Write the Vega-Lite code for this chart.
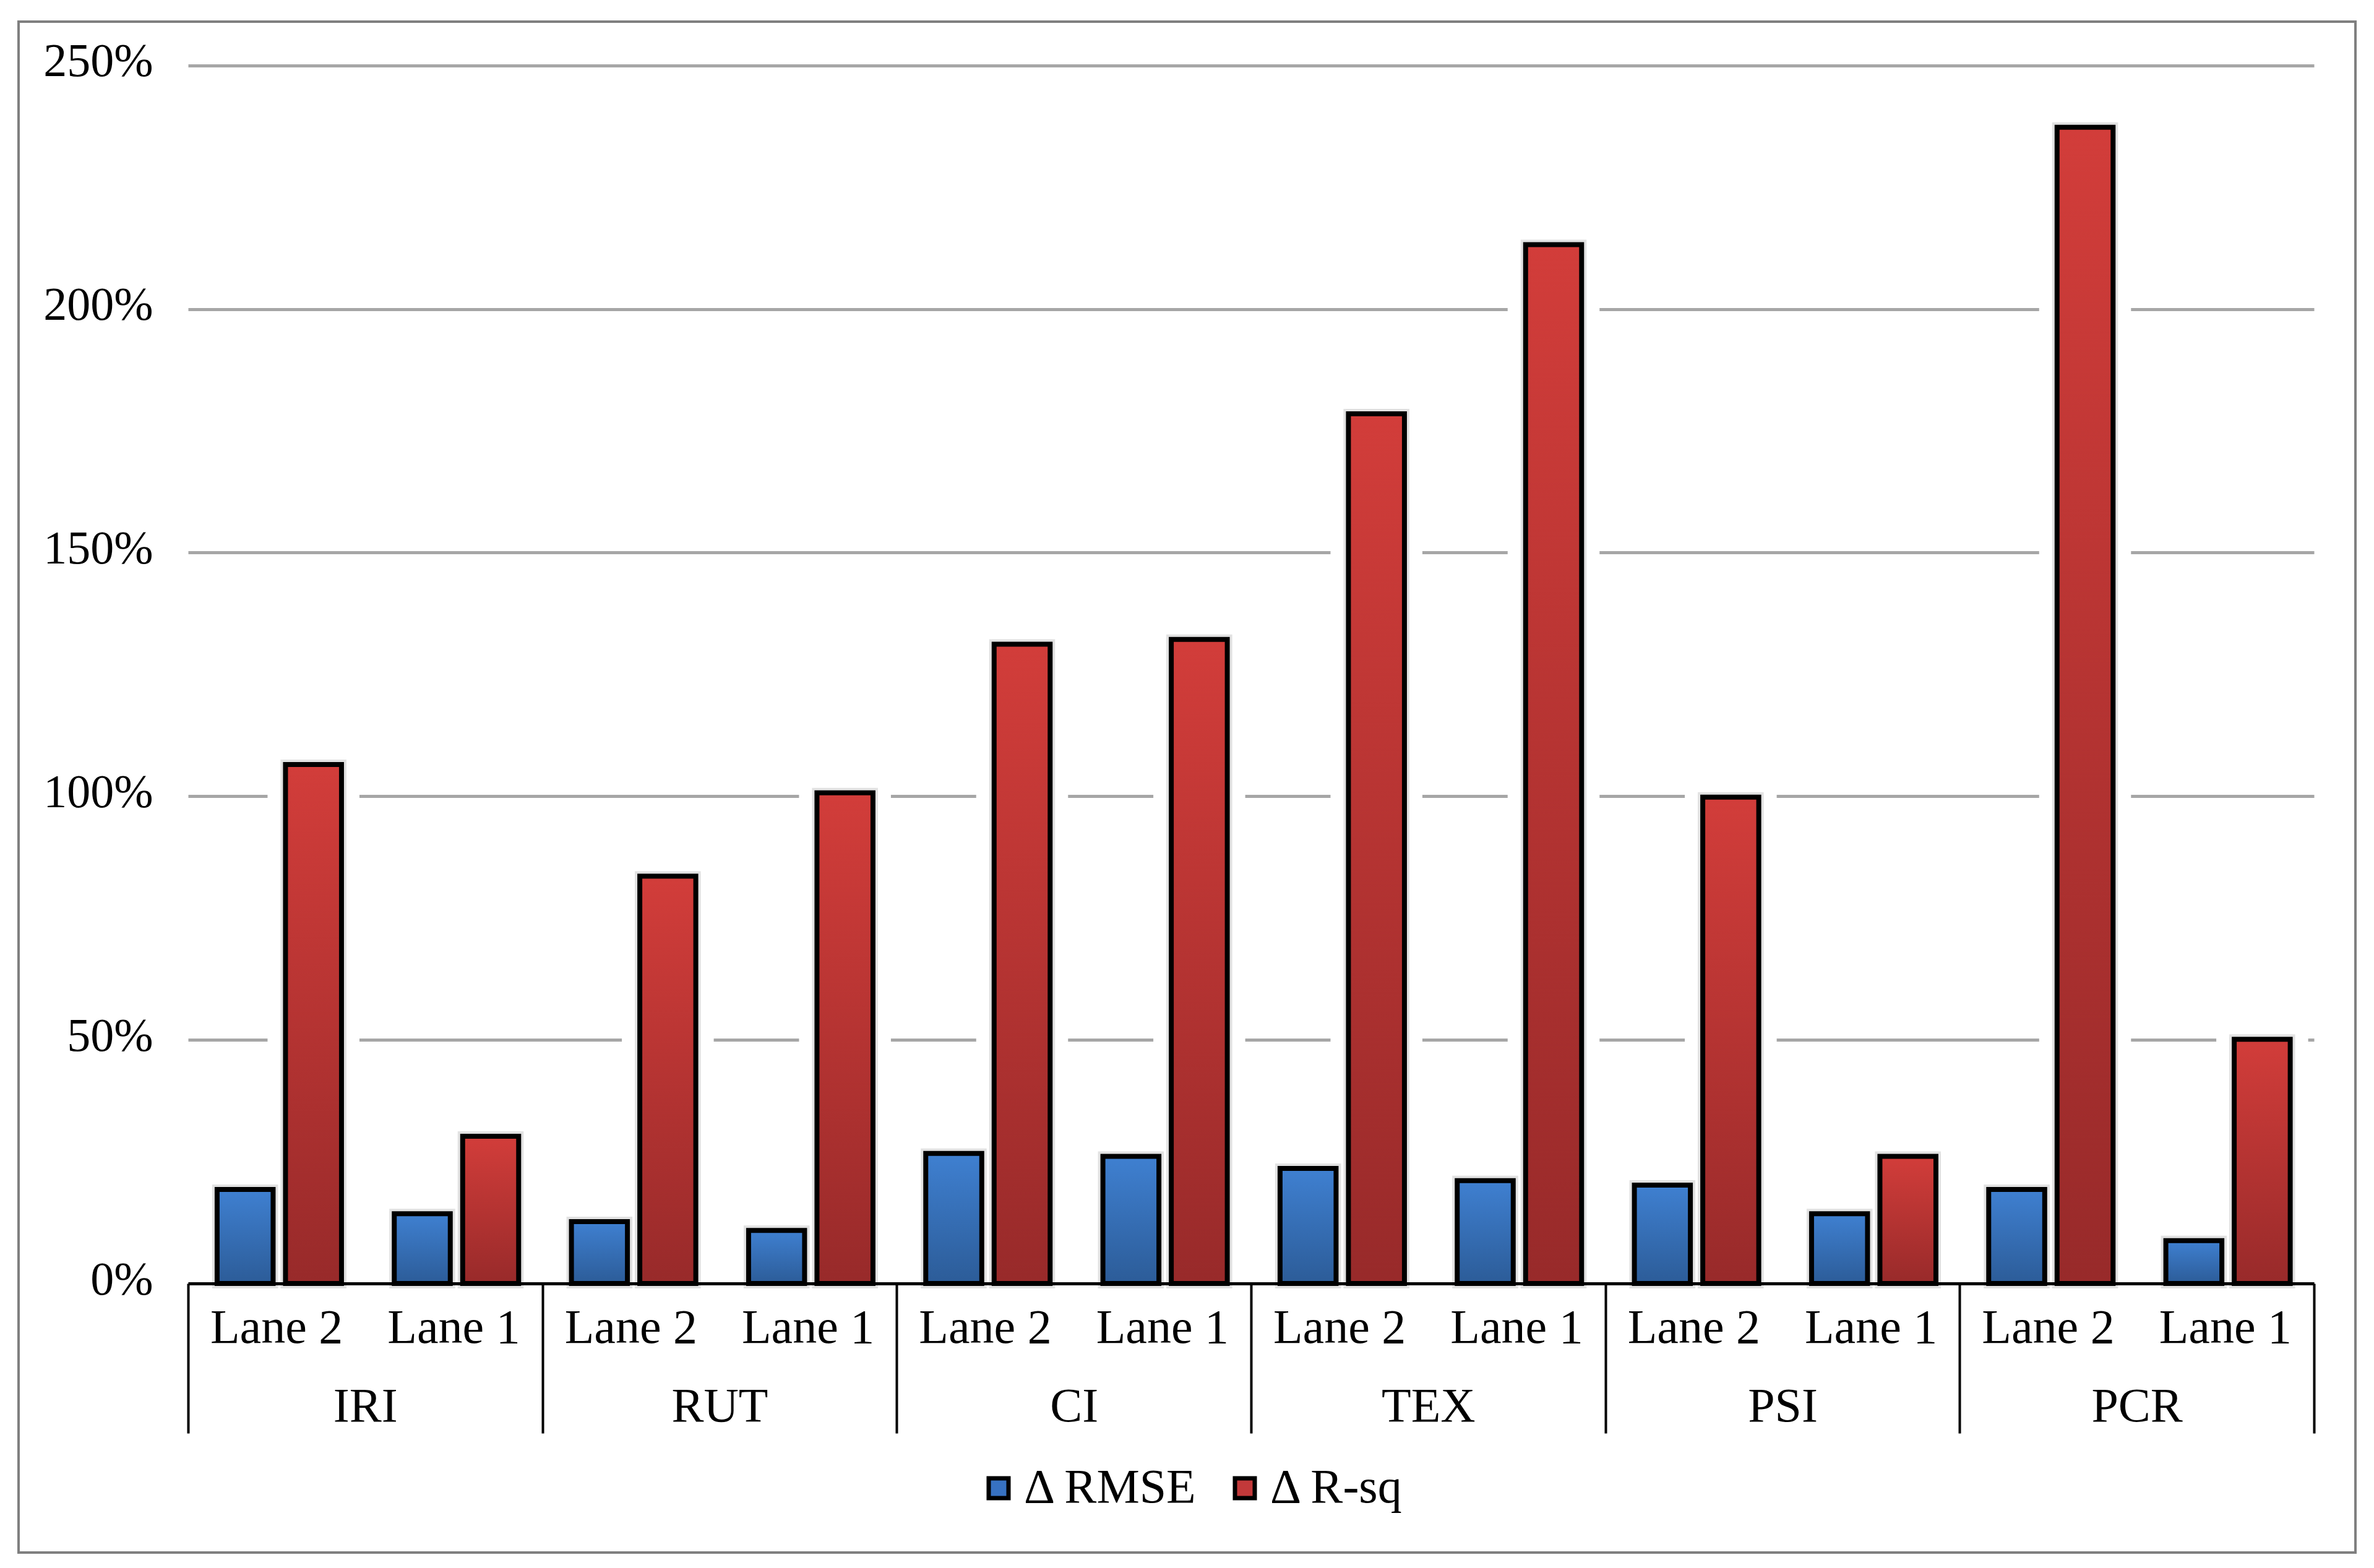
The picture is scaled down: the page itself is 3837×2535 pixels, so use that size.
{
  "$schema": "https://vega.github.io/schema/vega-lite/v6.json",
  "width": 3777,
  "height": 2475,
  "autosize": {"type": "none"},
  "padding": {"left": 30, "top": 35, "right": 30, "bottom": 25},
  "background": "white",
  "config": {
    "font": "Liberation Serif",
    "view": {"stroke": "#7f7f7f", "strokeWidth": 4},
    "axis": {"labelFont": "Liberation Serif", "labelFontSize": 76, "labelColor": "black", "title": null, "labelLimit": 0}
  },
  "data": {
    "values": [
      {"category": "IRI", "lane": "Lane 2", "cl": "IRI|Lane 2", "metric": "Δ RMSE", "value": 19.3},
      {"category": "IRI", "lane": "Lane 2", "cl": "IRI|Lane 2", "metric": "Δ R-sq", "value": 106.5},
      {"category": "IRI", "lane": "Lane 1", "cl": "IRI|Lane 1", "metric": "Δ RMSE", "value": 14.3},
      {"category": "IRI", "lane": "Lane 1", "cl": "IRI|Lane 1", "metric": "Δ R-sq", "value": 30.2},
      {"category": "RUT", "lane": "Lane 2", "cl": "RUT|Lane 2", "metric": "Δ RMSE", "value": 12.7},
      {"category": "RUT", "lane": "Lane 2", "cl": "RUT|Lane 2", "metric": "Δ R-sq", "value": 83.6},
      {"category": "RUT", "lane": "Lane 1", "cl": "RUT|Lane 1", "metric": "Δ RMSE", "value": 10.9},
      {"category": "RUT", "lane": "Lane 1", "cl": "RUT|Lane 1", "metric": "Δ R-sq", "value": 100.7},
      {"category": "CI", "lane": "Lane 2", "cl": "CI|Lane 2", "metric": "Δ RMSE", "value": 26.7},
      {"category": "CI", "lane": "Lane 2", "cl": "CI|Lane 2", "metric": "Δ R-sq", "value": 131.2},
      {"category": "CI", "lane": "Lane 1", "cl": "CI|Lane 1", "metric": "Δ RMSE", "value": 26.1},
      {"category": "CI", "lane": "Lane 1", "cl": "CI|Lane 1", "metric": "Δ R-sq", "value": 132.2},
      {"category": "TEX", "lane": "Lane 2", "cl": "TEX|Lane 2", "metric": "Δ RMSE", "value": 23.6},
      {"category": "TEX", "lane": "Lane 2", "cl": "TEX|Lane 2", "metric": "Δ R-sq", "value": 178.5},
      {"category": "TEX", "lane": "Lane 1", "cl": "TEX|Lane 1", "metric": "Δ RMSE", "value": 21.1},
      {"category": "TEX", "lane": "Lane 1", "cl": "TEX|Lane 1", "metric": "Δ R-sq", "value": 213.2},
      {"category": "PSI", "lane": "Lane 2", "cl": "PSI|Lane 2", "metric": "Δ RMSE", "value": 20.2},
      {"category": "PSI", "lane": "Lane 2", "cl": "PSI|Lane 2", "metric": "Δ R-sq", "value": 99.8},
      {"category": "PSI", "lane": "Lane 1", "cl": "PSI|Lane 1", "metric": "Δ RMSE", "value": 14.3},
      {"category": "PSI", "lane": "Lane 1", "cl": "PSI|Lane 1", "metric": "Δ R-sq", "value": 26.1},
      {"category": "PCR", "lane": "Lane 2", "cl": "PCR|Lane 2", "metric": "Δ RMSE", "value": 19.3},
      {"category": "PCR", "lane": "Lane 2", "cl": "PCR|Lane 2", "metric": "Δ R-sq", "value": 237.3},
      {"category": "PCR", "lane": "Lane 1", "cl": "PCR|Lane 1", "metric": "Δ RMSE", "value": 8.8},
      {"category": "PCR", "lane": "Lane 1", "cl": "PCR|Lane 1", "metric": "Δ R-sq", "value": 50.1}
    ]
  },
  "encoding": {
    "y": {
      "field": "value",
      "type": "quantitative",
      "stack": null,
      "scale": {"domain": [0, 250], "range": [2040, 70.7], "nice": false, "zero": true},
      "axis": {
        "orient": "left",
        "offset": -227,
        "values": [0, 50, 100, 150, 200, 250],
        "labelExpr": "datum.value + '%'",
        "domain": false,
        "ticks": false,
        "grid": true,
        "gridColor": "#a6a6a6",
        "gridWidth": 5,
        "labelPadding": 10,
        "labelOffset": -6,
        "labelFontSize": 76,
        "title": null,
        "zindex": 0
      }
    }
  },
  "layer": [
    {
      "encoding": {
        "x": {
          "field": "cl",
          "type": "nominal",
          "sort": null,
          "scale": {"range": [274, 3710], "paddingInner": 0, "paddingOuter": 0},
          "axis": {
            "orient": "bottom",
            "offset": -435,
            "domain": false,
            "ticks": false,
            "grid": false,
            "labelExpr": "split(datum.label, '|')[1]",
            "labelAngle": 0,
            "labelPadding": 95,
            "labelBaseline": "alphabetic",
            "labelFontSize": 78,
            "labelLimit": 0,
            "labelOverlap": false,
            "zindex": 1,
            "title": null
          }
        },
        "xOffset": {
          "field": "metric",
          "type": "nominal",
          "sort": ["Δ RMSE", "Δ R-sq"],
          "scale": {"domain": ["Δ RMSE", "Δ R-sq"], "paddingInner": 0.181, "paddingOuter": 0.386, "align": 0.55}
        }
      },
      "layer": [
        {"mark": {"type": "bar", "fill": "white", "stroke": "white", "strokeWidth": 58}},
        {"mark": {"type": "bar", "fill": "#e2e2e2", "stroke": "#e2e2e2", "strokeWidth": 16}},
        {
          "mark": {"type": "bar"},
          "encoding": {
            "color": {
              "field": "metric",
              "type": "nominal",
              "scale": {"domain": ["Δ RMSE", "Δ R-sq"], "range": ["#3772c2", "#c2393a"]},
              "legend": {
                "orient": "none",
                "legendX": 1545,
                "legendY": 2332,
                "direction": "horizontal",
                "title": null,
                "symbolType": "square",
                "symbolSize": 1024,
                "symbolStrokeColor": "black",
                "symbolStrokeWidth": 7,
                "symbolOpacity": 1,
                "labelFontSize": 78,
                "labelFont": "Liberation Serif",
                "labelColor": "black",
                "labelOffset": 2,
                "columnPadding": 35,
                "padding": 0,
                "labelLimit": 0
              }
            }
          }
        },
        {
          "mark": {"type": "bar", "stroke": "black", "strokeWidth": 8},
          "encoding": {
            "fill": {
              "condition": {
                "test": "datum.metric === 'Δ RMSE'",
                "value": {"gradient": "linear", "x1": 0, "y1": 0, "x2": 0, "y2": 1, "stops": [{"offset": 0, "color": "#3f80d1"}, {"offset": 1, "color": "#2c5c98"}]}
              },
              "value": {"gradient": "linear", "x1": 0, "y1": 0, "x2": 0, "y2": 1, "stops": [{"offset": 0, "color": "#d23d3a"}, {"offset": 1, "color": "#982a2a"}]}
            }
          }
        }
      ]
    },
    {
      "mark": {"type": "point", "opacity": 0},
      "encoding": {
        "x": {
          "field": "category",
          "type": "nominal",
          "sort": null,
          "scale": {"range": [274, 3710], "paddingInner": 0, "paddingOuter": 0},
          "axis": {
            "orient": "bottom",
            "offset": -435,
            "domain": true,
            "domainColor": "black",
            "domainWidth": 5,
            "ticks": true,
            "tickBand": "extent",
            "tickSize": 242,
            "tickWidth": 4,
            "tickColor": "black",
            "labelAngle": 0,
            "labelPadding": -20,
            "labelBaseline": "alphabetic",
            "labelFontSize": 78,
            "grid": false,
            "zindex": 1,
            "title": null
          }
        }
      }
    }
  ],
  "resolve": {"scale": {"x": "independent"}}
}
